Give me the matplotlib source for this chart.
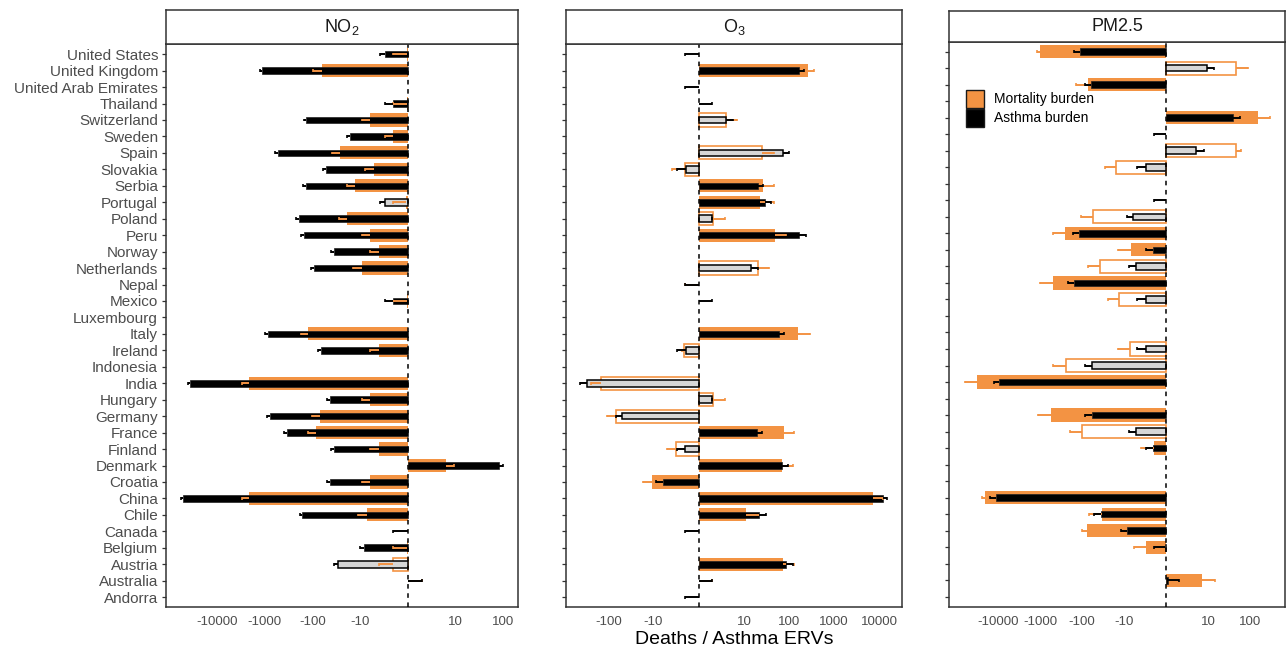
import numpy as np
import matplotlib
matplotlib.use("Agg")
import matplotlib.pyplot as plt
from matplotlib.patches import Rectangle

plt.rcParams['font.family'] = ['Liberation Sans', 'DejaVu Sans']
plt.rcParams['mathtext.fontset'] = 'custom'
plt.rcParams['mathtext.rm'] = 'Liberation Sans'
plt.rcParams['mathtext.it'] = 'Liberation Sans:italic'

# ---------------- data (alphabetical, Andorra at bottom) ----------------
countries = ["Andorra", "Australia", "Austria", "Belgium", "Canada", "Chile", "China",
             "Croatia", "Denmark", "Finland", "France", "Germany", "Hungary", "India",
             "Indonesia", "Ireland", "Italy", "Luxembourg", "Mexico", "Nepal",
             "Netherlands", "Norway", "Peru", "Poland", "Portugal", "Serbia", "Slovakia",
             "Spain", "Sweden", "Switzerland", "Thailand", "United Arab Emirates",
             "United Kingdom", "United States"]

# NO2
no2_mort = [0, 0, -1.5, -0.1, 0, -7.2, -2120, -5.9, 6.2, -3.8, -82, -70, -5.9, -2120,
            0, -3.8, -121, 0, -0.1, 0, -9.2, -3.8, -5.9, -19, -0.2, -13, -5.0, -26,
            -1.5, -5.9, -0.1, 0, -64, -0.1]
no2_mort_ci = [0, 1.5, -3.7, -1.5, 0, -10.9, -3020, -9.0, 9.2, -5.9, -121, -103, -9.0, -3020,
               0, -5.9, -176, 0, -1.5, 0, -14, -5.9, -9.0, -28, -1.5, -19, -7.9, -38,
               -2.7, -9.0, -1.5, 0, -95, -1.5]
no2_asth = [0, 0, -29, -8.3, 0, -162, -50400, -43, 82, -35, -336, -778, -42, -35800,
            0, -65, -857, 0, -1.5, 0, -92, -35, -151, -194, -2.7, -136, -52, -520,
            -15.8, -134, -1.5, 0, -1110, -2.7]
no2_asth_ci = [0, 1.5, -35, -9.9, -1.5, -185, -57000, -49, 97, -40, -382, -885, -49, -40700,
               0, -75, -977, 0, -2.6, 0, -107, -40, -173, -221, -3.6, -157, -60, -592,
               -18.3, -151, -2.6, 0, -1245, -3.6]
no2_mort_ns = ["Austria"]
no2_asth_ns = ["Austria", "Portugal"]

# O3
o3_mort = [0, 0, 74, 0, 0, 11.3, 7100, -10.5, 71, -2.8, 77, -68, 1.55, -143,
           0, -1.6, 161, 0, 0, 0, 20.8, 0, 49, 1.55, 23, 26, -1.55, 24.7,
           0, 3.85, 0, 0, 263, 0]
o3_mort_ci = [0, 1.5, 127, 0, 0, 22, 11900, -16.9, 121, -4.8, 127, -107, 3.65, -239,
              0, -1.9, 293, 0, 0, -1.5, 35, 0, 87, 3.65, 45.6, 46, -3.65, 45.6,
              0, 6.9, 0, 0, 353, 0]
o3_asth = [0, 0, 87, 0, 0, 22, 11900, -6.1, 70, -1.5, 19.4, -50, 1.4, -293,
           0, -1.43, 60, 0, 0, 0, 14.6, 0, 164, 1.4, 29, 20, -1.43, 72,
           0, 3.85, 0, 0, 164, 0]
o3_asth_ci = [-1.5, 1.5, 121, 0, -1.5, 31, 15000, -8.9, 95, -2.65, 25, -68, 1.5, -419,
              0, -2.65, 79, 0, 1.5, -1.5, 20.6, 0, 231, 1.5, 40, 26.5, -2.65, 98,
              0, 5.7, 1.5, -1.5, 212, -1.5]
o3_mort_ns = ["Switzerland", "Spain", "Slovakia", "Poland", "Netherlands", "Ireland",
              "India", "Hungary", "Germany", "Finland"]
o3_asth_ns = o3_mort_ns

# PM2.5
pm_mort = [0, 7.0, 0, -2.7, -77, -34, -21100, 0, 0, -1.43, -100, -561, 0, -32700,
           -250, -7.0, 0, 0, -13.1, -493, -37, -6.8, -260, -55, 0, 0, -15.2, 46.8,
           0, 156, 0, -73.5, 46.8, -1020]
pm_mort_ci = [0, 14.7, 0, -5.8, -100, -68, -24400, 0, 0, -3.65, -194, -1125, 0, -63000,
              -493, -13.6, 0, 0, -24, -1030, -72, -13.8, -512, -108, 0, 0, -28.8, 63,
              0, 300, 0, -144, 91, -1230]
pm_asth = [0, 0.2, 0, -0.1, -8.2, -36.6, -11700, 0, 0, -1.62, -4.9, -60, 0, -9600,
           -60, -2.7, 0, 0, -2.7, -158, -4.9, -1.62, -120, -5.9, 0, 0, -2.7, 4.96,
           0, 40, 0, -61, 9.2, -114]
pm_asth_ci = [0, 1.5, 0, -1.43, -11.7, -52.7, -16000, 0, 0, -2.6, -7.6, -85, 0, -12600,
              -85, -4.7, 0, 0, -4.7, -216, -7.6, -2.6, -164, -8.6, -1.43, 0, -4.7, 7.8,
              -1.43, 58, 0, -85, 14.1, -158]
pm_mort_ns = ["United Kingdom", "Spain", "Slovakia", "Poland", "Netherlands", "Mexico",
              "Ireland", "Indonesia", "France"]
pm_asth_ns = pm_mort_ns

panel_titles = [r"NO$_2$", r"O$_3$", "PM2.5"]
ticks_no2 = [-10000, -1000, -100, -10, 10, 100]
ticks_o3 = [-100, -10, 10, 100, 1000, 10000]
ticks_pm = [-10000, -1000, -100, -10, 10, 100]
legend_labels = ["Mortality burden", "Asthma burden"]
x_title = "Deaths / Asthma ERVs"

# ---------------- style ----------------
ORANGE = "#F39343"
W, H = 1286, 651


def fwd(x):
    return np.arcsinh(np.asarray(x, dtype=float) / 2.0) / np.log(10)


def inv(y):
    return 2.0 * np.sinh(np.asarray(y, dtype=float) * np.log(10))


fig = plt.figure(figsize=(W / 100, H / 100), dpi=100)


def px_axes(x0, x1, y0, y1):
    return fig.add_axes([x0 / W, 1 - y1 / H, (x1 - x0) / W, (y1 - y0) / H])


def draw_panel(ax, mort, mort_ci, asth, asth_ci, mort_ns, asth_ns, tlim, ticks, labels):
    y = np.arange(len(countries))
    mort = np.asarray(mort, float)
    mort_ci = np.asarray(mort_ci, float)
    asth = np.asarray(asth, float)
    asth_ci = np.asarray(asth_ci, float)
    mns = np.array([c in mort_ns for c in countries])
    ans = np.array([c in asth_ns for c in countries])
    ax.set_xscale("function", functions=(fwd, inv))

    s = (mort != 0) & ~mns
    ax.barh(y[s], mort[s], height=0.8, color=ORANGE, lw=0, zorder=2)
    s = (mort != 0) & mns
    ax.barh(y[s], mort[s], height=0.8, facecolor="white", edgecolor=ORANGE, lw=1.2, zorder=2)
    s = (asth != 0) & ~ans
    ax.barh(y[s], asth[s], height=0.4, facecolor="black", edgecolor="#222222", lw=0.5, zorder=3)
    s = (asth != 0) & ans
    ax.barh(y[s], asth[s], height=0.4, facecolor="#D6D6D6", edgecolor="black", lw=1.1, zorder=3)

    s = mort_ci != mort
    ax.hlines(y[s], mort[s], mort_ci[s], color=ORANGE, lw=1.4, zorder=4)
    ax.vlines(mort_ci[s], y[s] - 0.08, y[s] + 0.08, color=ORANGE, lw=1.2, zorder=4)
    s = asth_ci != asth
    ax.hlines(y[s], asth[s], asth_ci[s], color="black", lw=1.4, zorder=5)
    ax.vlines(asth_ci[s], y[s] - 0.09, y[s] + 0.09, color="black", lw=1.2, zorder=5)

    ax.axvline(0, color="black", ls=(0, (3, 3)), lw=1.1, zorder=6)

    ax.set_xlim(inv(tlim[0]), inv(tlim[1]))
    ax.set_ylim(-0.6, len(countries) - 0.4)
    ax.set_xticks(ticks)
    ax.set_xticklabels([str(t) for t in ticks])
    ax.set_yticks(y)
    ax.set_yticklabels(countries if labels else [])
    ax.tick_params(axis="x", length=0, pad=6.5, labelsize=9.5, labelcolor="#4D4D4D")
    ax.tick_params(axis="y", length=3.2, width=0.9, color="#333333", pad=2.5,
                   labelsize=11, labelcolor="#4D4D4D")
    ax.minorticks_off()
    for sp in ax.spines.values():
        sp.set_color("#333333")
        sp.set_linewidth(1.1)


def strip(x0, x1, y0, y1, title):
    sa = px_axes(x0, x1, y0, y1)
    sa.set_xticks([])
    sa.set_yticks([])
    for sp in sa.spines.values():
        sp.set_color("#333333")
        sp.set_linewidth(1.1)
    sa.text(0.5, 0.5, title, ha="center", va="center", fontsize=13, color="#1A1A1A",
            transform=sa.transAxes)


ax1 = px_axes(166, 518.3, 44.3, 607)
draw_panel(ax1, no2_mort, no2_mort_ci, no2_asth, no2_asth_ci, no2_mort_ns, no2_asth_ns,
           (-5.06, 2.31), ticks_no2, True)
strip(166, 518.3, 10, 44.3, panel_titles[0])

ax2 = px_axes(566, 902, 44.3, 607)
draw_panel(ax2, o3_mort, o3_mort_ci, o3_asth, o3_asth_ci, o3_mort_ns, o3_asth_ns,
           (-2.94, 4.50), ticks_o3, False)
strip(566, 902, 10, 44.3, panel_titles[1])

ax3 = px_axes(949, 1285, 41.7, 606.7)
draw_panel(ax3, pm_mort, pm_mort_ci, pm_asth, pm_asth_ci, pm_mort_ns, pm_asth_ns,
           (-5.18, 2.84), ticks_pm, False)
strip(949, 1285, 11, 41.7, panel_titles[2])

# legend (keys drawn as patches in figure pixel layout)
key_colors = [ORANGE, "black"]
key_tops = [90, 108.6]
for col, top, lab in zip(key_colors, key_tops, legend_labels):
    fig.patches.append(Rectangle((966 / W, 1 - (top + 18.2) / H), 18 / W, 18.2 / H,
                                 transform=fig.transFigure, facecolor=col,
                                 edgecolor="#1A1A1A", lw=1.0, zorder=10))
    fig.text(994.3 / W, 1 - (top + 9.1) / H, lab, ha="left", va="center", fontsize=10,
             color="black", zorder=10)

fig.text(734 / W, 1 - 640 / H, x_title, ha="center", va="center", fontsize=14,
         color="black")

fig.savefig("out.png", dpi=100)
